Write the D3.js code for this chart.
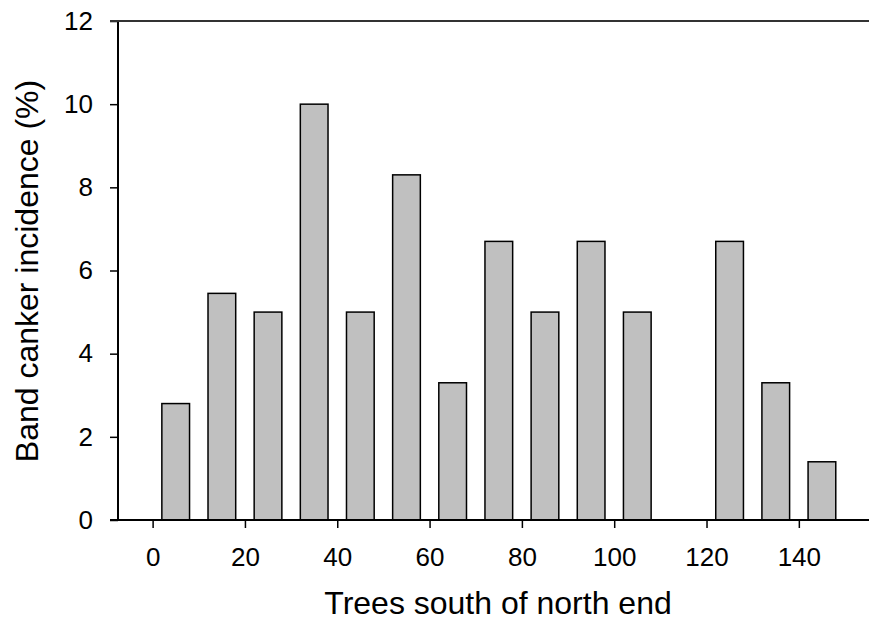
<!DOCTYPE html>
<html><head><meta charset="utf-8">
<script src="https://cdn.jsdelivr.net/npm/d3@7"></script>
<style>body{margin:0;background:#fff}svg{display:block}text{font-family:"Liberation Sans",Arial,sans-serif;fill:#000}</style>
</head><body>
<svg id="c" width="869" height="621"></svg>
<script>
const positions = [5,15,25,35,45,55,65,75,85,95,105,115,125,135,145];
const values = [2.8,5.45,5,10,5,8.3,3.3,6.7,5,6.7,5,0,6.7,3.3,1.4];
const xTicks = [0,20,40,60,80,100,120,140];
const yTicks = [0,2,4,6,8,10,12];
const xTitle = "Trees south of north end";
const yTitle = "Band canker incidence (%)";

const svg = d3.select("#c");
const x = d3.scaleLinear().domain([-7.5,155.2]).range([118,869]);
const y = d3.scaleLinear().domain([0,12]).range([520,21]);
const barW = 6;

// bars
svg.append("g").selectAll("rect").data(positions.map((p,i)=>({p,v:values[i]})).filter(d=>d.v>0))
  .join("rect")
  .attr("x",d=>x(d.p-barW/2)).attr("width",d=>x(d.p+barW/2)-x(d.p-barW/2))
  .attr("y",d=>y(d.v)).attr("height",d=>y(0)-y(d.v))
  .attr("fill","#c0c0c0").attr("stroke","#000").attr("stroke-width",1.5);

// y axis
const ya = svg.append("g").attr("transform",`translate(${x(-7.5)},0)`)
  .call(d3.axisLeft(y).tickValues(yTicks).tickSize(8).tickPadding(17).tickFormat(d3.format("d")));
ya.attr("font-size",null).attr("font-family",null);
ya.select(".domain").attr("stroke","#000").attr("stroke-width",2).attr("d",`M0,${y(0)}V${y(12)}`);
ya.selectAll(".tick line").attr("stroke","#000").attr("stroke-width",1.5);
ya.selectAll("text").style("font-size","26px");

// x axis
const xa = svg.append("g").attr("transform",`translate(0,${y(0)})`)
  .call(d3.axisBottom(x).tickValues(xTicks).tickSize(8).tickPadding(20).tickFormat(d3.format("d")));
xa.attr("font-size",null).attr("font-family",null);
xa.select(".domain").attr("stroke","#000").attr("stroke-width",2).attr("d",`M${x(-7.5)-8},0H869`);
xa.selectAll(".tick line").attr("stroke","#000").attr("stroke-width",1.5);
xa.selectAll("text").style("font-size","26px");

// top line
svg.append("line").attr("x1",x(-7.5)-8).attr("x2",869).attr("y1",y(12)).attr("y2",y(12))
  .attr("stroke","#333").attr("stroke-width",2);

// titles
svg.append("text").attr("x",498).attr("y",614).attr("text-anchor","middle")
  .style("font-size","32px").text(xTitle);
svg.append("text").attr("transform","translate(38,271) rotate(-90)").attr("text-anchor","middle")
  .style("font-size","32px").text(yTitle);
</script>
</body></html>
